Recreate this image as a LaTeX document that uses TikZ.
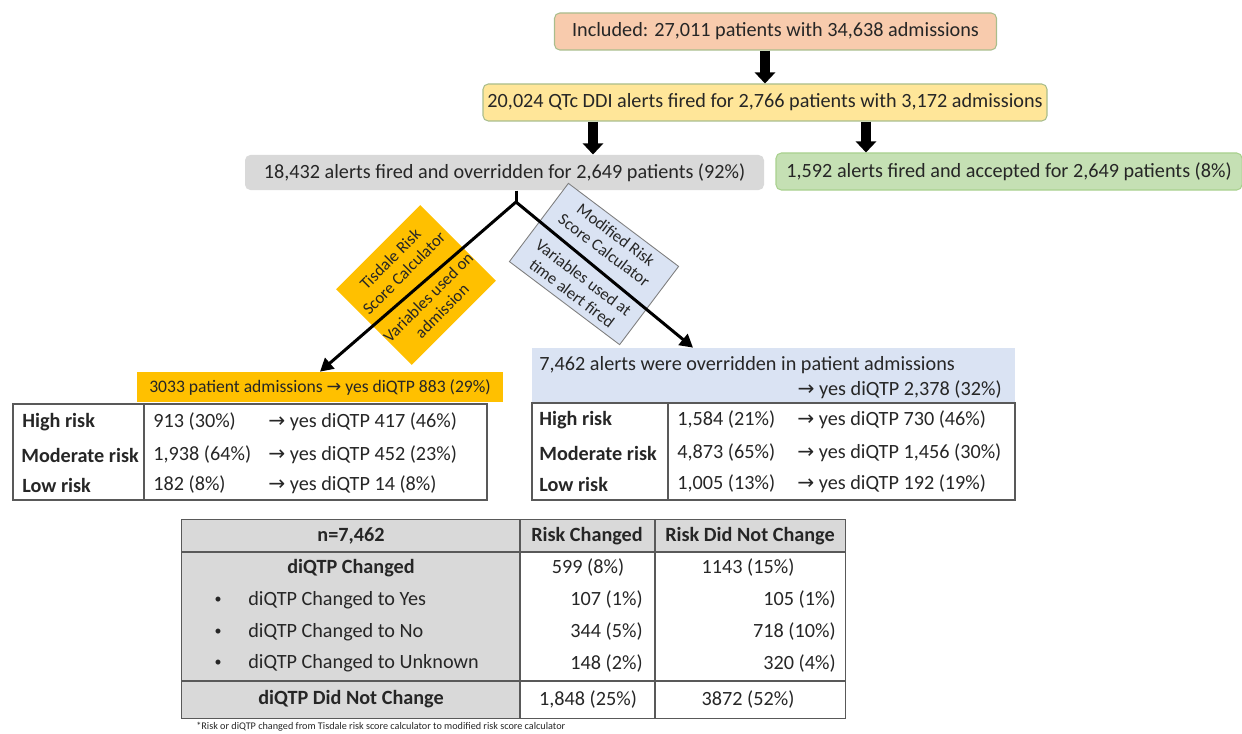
\documentclass[tikz,border=0pt]{standalone}
\usepackage{fontspec}
\setmainfont{Carlito}
\newfontfamily\arrfont{DejaVu Sans}
\usetikzlibrary{arrows.meta,positioning}
\definecolor{cIncl}{HTML}{F8CBAD}
\definecolor{cFired}{HTML}{FFE699}
\definecolor{cOver}{HTML}{D9D9D9}
\definecolor{cAcc}{HTML}{C5E0B4}
\definecolor{cAccD}{HTML}{A9D18E}
\definecolor{cEdge}{HTML}{A9BD8C}
\definecolor{cTis}{HTML}{FFC000}
\definecolor{cMod}{HTML}{DAE3F3}
\definecolor{cModD}{HTML}{7F7F7F}
\definecolor{cGrid}{HTML}{595959}
\definecolor{cInk}{HTML}{262626}
\newcommand{\fmain}{\fontsize{11.5}{13.8}\selectfont}
\newcommand{\fhdr}{\fontsize{10}{12}\selectfont}
\newcommand{\fcalc}{\fontsize{9.5}{11}\selectfont}
\newcommand{\fnote}{\fontsize{5.8}{7}\selectfont}
\newcommand{\rarr}{{\arrfont →}}
\tikzset{
  box/.style={rounded corners=3pt, line width=0.6pt, inner sep=0pt, minimum height=7.4mm, font=\fmain},
  blk/.style={-{Triangle[width=4mm,length=2.2mm]}, line width=2mm, draw=black},
  stemline/.style={line width=0.6mm, draw=black},
  branch/.style={{Triangle[width=2.8mm,length=2.6mm]}-{Triangle[width=2.8mm,length=2.6mm]}, line width=0.6mm, draw=black},
  calcbox/.style={inner sep=0pt, align=center, font=\fcalc},
  hdr/.style={inner sep=0pt, draw=none},
  tbl/.style={draw=cGrid, line width=0.8pt, inner sep=0pt},
  tline/.style={draw=cGrid, line width=0.8pt},
  cell/.style={inner sep=0pt, font=\fmain},
  dot/.style={inner sep=0pt, font=\fontsize{8}{9}\selectfont},
}
\begin{document}
\begin{tikzpicture}[x=0.2mm, y=-0.2mm, text=cInk]
\useasboundingbox (0,0) rectangle (1242,733);
% flow at the top
\node[box, draw=cEdge, fill=cIncl, minimum width=88.4mm] (inc) at (775.5,31.5) {Included: 27,011 patients with 34,638 admissions};
\node[box, draw=cEdge, fill=cFired, minimum width=112.8mm] (frd) at (765,102.5) {20,024 QTc DDI alerts fired for 2,766 patients with 3,172 admissions};
\node[box, fill=cOver, minimum width=103.8mm, minimum height=7mm] (ovr) at (504.5,172.5) {18,432 alerts fired and overridden for 2,649 patients (92\%)};
\node[box, draw=cAccD, fill=cAcc, minimum width=93.2mm] (acc) at (1009,171.5) {1,592 alerts fired and accepted for 2,649 patients (8\%)};
\coordinate (a2) at (593,0); \coordinate (a3) at (866,0);
\draw[blk] (frd.north |- inc.south) -- (frd.north);
\draw[blk] (frd.south -| a2) -- (ovr.north -| a2);
\draw[blk] (frd.south -| a3) -- (acc.north -| a3);
% the two calculators
\node[calcbox, fill=cTis, rotate=45, minimum width=23.6mm, minimum height=21.4mm] (tis) at (416,285) {Tisdale Risk\\Score Calculator\\[3mm]Variables used on\\admission};
\node[calcbox, fill=cMod, draw=cModD, line width=0.5pt, rotate=-37, minimum width=27.6mm, minimum height=19.6mm] (mod) at (594,264) {Modified Risk\\Score Calculator\\[3mm]Variables used at\\time alert fired};
% left result
\node[hdr, fill=cTis, font=\fhdr, minimum width=73.2mm, minimum height=6mm] (lh) at (320,387) {3033 patient admissions \rarr{} yes diQTP 883 (29\%)};
\node[tbl, minimum width=94.8mm, minimum height=19.2mm] (lt) at (250,452) {};
\coordinate (ld) at (144,0);
\draw[tline] (lt.north -| ld) -- (lt.south -| ld);
\node[cell, anchor=west] (l1a) at (22,422) {\textbf{High risk}};
\node[cell, anchor=west] (l1b) at (153,422) {913 (30\%)};
\node[cell, anchor=west] (l1c) at (268,422) {\rarr{} yes diQTP 417 (46\%)};
\node[cell, anchor=west] (l2a) at (21,455) {\textbf{Moderate risk}};
\node[cell, anchor=west] (l2b) at (153,455) {1,938 (64\%)};
\node[cell, anchor=west] (l2c) at (268,455) {\rarr{} yes diQTP 452 (23\%)};
\node[cell, anchor=west] (l3a) at (22,485) {\textbf{Low risk}};
\node[cell, anchor=west] (l3b) at (153,485) {182 (8\%)};
\node[cell, anchor=west] (l3c) at (268,485) {\rarr{} yes diQTP 14 (8\%)};
% right result
\node[hdr, fill=cMod, minimum width=96.6mm, minimum height=11mm] (rh) at (773.5,375.5) {};
\node[cell, anchor=west] (rh1) at (539,365) {7,462 alerts were overridden in patient admissions};
\node[cell, anchor=east] (rh2) at (1002,390) {\rarr{} yes diQTP 2,378 (32\%)};
\node[tbl, minimum width=96.6mm, minimum height=19.4mm] (rt) at (773.5,451.5) {};
\coordinate (rd) at (668,0);
\draw[tline] (rt.north -| rd) -- (rt.south -| rd);
\node[cell, anchor=west] (r1a) at (539,420) {\textbf{High risk}};
\node[cell, anchor=west] (r1b) at (677,420) {1,584 (21\%)};
\node[cell, anchor=west] (r1c) at (797,420) {\rarr{} yes diQTP 730 (46\%)};
\node[cell, anchor=west] (r2a) at (539,453) {\textbf{Moderate risk}};
\node[cell, anchor=west] (r2b) at (677,453) {4,873 (65\%)};
\node[cell, anchor=west] (r2c) at (797,453) {\rarr{} yes diQTP 1,456 (30\%)};
\node[cell, anchor=west] (r3a) at (539,484) {\textbf{Low risk}};
\node[cell, anchor=west] (r3b) at (677,484) {1,005 (13\%)};
\node[cell, anchor=west] (r3c) at (797,484) {\rarr{} yes diQTP 192 (19\%)};
% split below the overridden box
\coordinate (jn) at (516,202);
\draw[stemline] (ovr.south -| jn) -- (jn);
\draw[branch] (lh.north) -- (jn) -- ([xshift=-16.1mm]rh.north);
% change table
\path node[inner sep=0pt, minimum width=132.6mm, minimum height=39.6mm] (bt) at (513.5,619) {};
\coordinate (bh) at (0,552); \coordinate (bf) at (0,681);
\coordinate (bc1) at (520,0); \coordinate (bc2) at (655,0);
\fill[cOver] (bt.north west) rectangle (bt.east |- bh);
\fill[cOver] (bt.north west) rectangle (bt.south -| bc1);
\draw[tline] (bt.west |- bh) -- (bt.east |- bh);
\draw[tline] (bt.west |- bf) -- (bt.east |- bf);
\draw[tline] (bt.north -| bc1) -- (bt.south -| bc1);
\draw[tline] (bt.north -| bc2) -- (bt.south -| bc2);
\draw[tline] (bt.north west) rectangle (bt.south east);
\node[cell] (n0) at (351,536) {\textbf{n=7,462}};
\node[cell] (n1) at (587,536) {\textbf{Risk Changed}};
\node[cell] (n2) at (750,536) {\textbf{Risk Did Not Change}};
\node[cell] (c0) at (351,568) {\textbf{diQTP Changed}};
\node[cell] (c1) at (588,568) {599 (8\%)};
\node[cell] (c2) at (748,568) {1143 (15\%)};
\node[dot] (y0) at (218,600) {•};
\node[cell, anchor=west] (y1) at (248,600) {diQTP Changed to Yes};
\node[cell, anchor=east] (y2) at (643,600) {107 (1\%)};
\node[cell, anchor=east] (y3) at (836,600) {105 (1\%)};
\node[dot] (o0) at (218,632) {•};
\node[cell, anchor=west] (o1) at (248,632) {diQTP Changed to No};
\node[cell, anchor=east] (o2) at (643,632) {344 (5\%)};
\node[cell, anchor=east] (o3) at (836,632) {718 (10\%)};
\node[dot] (u0) at (218,663) {•};
\node[cell, anchor=west] (u1) at (248,663) {diQTP Changed to Unknown};
\node[cell, anchor=east] (u2) at (643,663) {148 (2\%)};
\node[cell, anchor=east] (u3) at (836,663) {320 (4\%)};
\node[cell] (d0) at (351,699) {\textbf{diQTP Did Not Change}};
\node[cell] (d1) at (588,699) {1,848 (25\%)};
\node[cell] (d2) at (748,699) {3872 (52\%)};
\node[inner sep=0pt, anchor=west, font=\fnote] (fn) at (196,727) {*Risk or diQTP changed from Tisdale risk score calculator to modified risk score calculator};
\end{tikzpicture}
\end{document}
